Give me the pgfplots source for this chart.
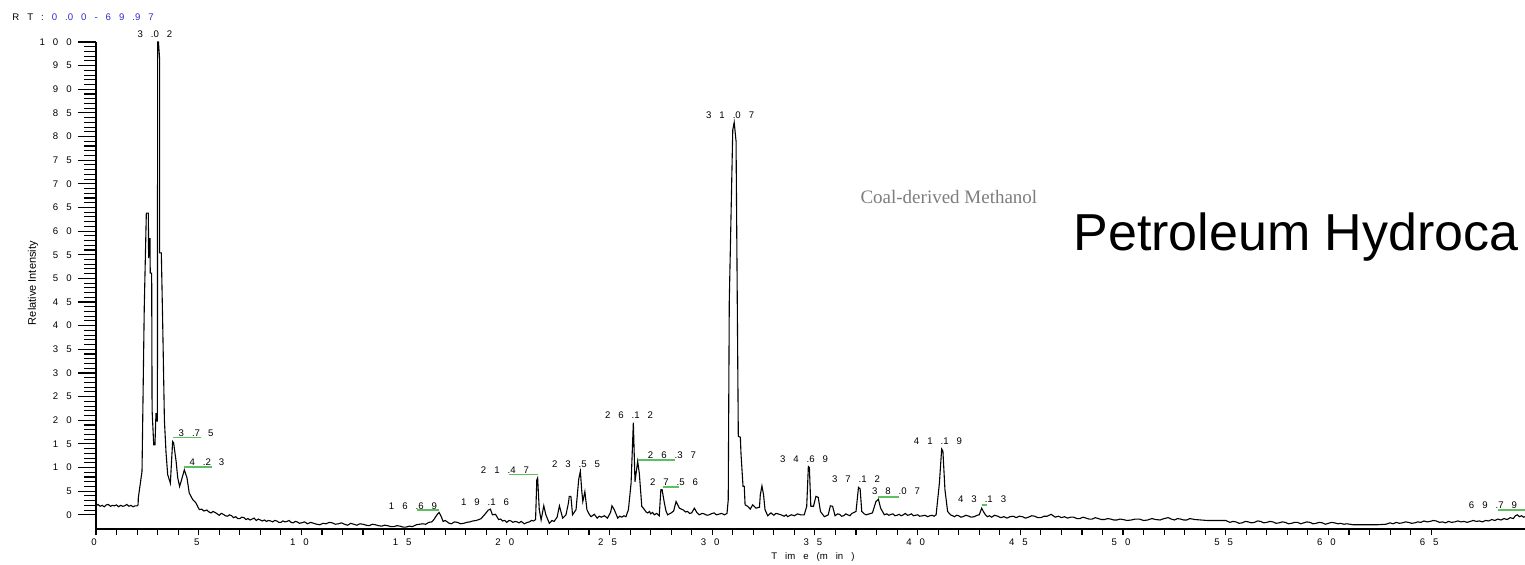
\documentclass[border=0pt]{standalone}
\usepackage{pgfplots}
\pgfplotsset{compat=1.18}
\usepackage{fontspec}
\newfontfamily\tf{Liberation Sans}
\newfontfamily\sansf{Liberation Sans}
\newfontfamily\seriff{Liberation Serif}
\newcommand\lab{\tf\fontsize{4.8pt}{5pt}\selectfont\fontdimen2\font=4pt\fontdimen3\font=0pt\fontdimen4\font=0pt\relax}
\definecolor{pkgreen}{RGB}{95,190,95}
\definecolor{rtblue}{RGB}{45,45,200}
\definecolor{coalgray}{RGB}{125,125,125}
\begin{document}
\begin{tikzpicture}
\begin{axis}[
  scale only axis, width=714.5pt, height=243.5pt,
  xmin=0, xmax=69.57, ymin=-3, ymax=100,
  axis x line=bottom, axis y line=left,
  axis line style={-, black, line width=0.6pt},
  xtick=\empty,
  ytick={0,5,...,100},
  yticklabels={0,5,1 0,1 5,2 0,2 5,3 0,3 5,4 0,4 5,5 0,5 5,6 0,6 5,7 0,7 5,8 0,8 5,9 0,9 5,1 0 0},
  minor y tick num=4,
  tick align=outside,
  major tick length=9pt, minor tick length=6pt,
  every tick/.style={black, line width=0.55pt},
  yticklabel style={font=\lab, anchor=east, inner sep=0pt, xshift=-3pt},
  clip=false,
]
\addplot[black, line width=0.55pt, no markers] coordinates {
(0.00,1.9) (0.1,2.2) (0.2,1.8) (0.3,2.0) (0.4,1.7) (0.5,2.1) (0.6,2.2) (0.7,1.8) (0.8,2.0) (0.9,1.9) (1.0,2.1) (1.1,1.7) (1.2,2.0) (1.3,1.8) (1.4,1.9) (1.5,2.2) (1.6,1.8) (1.7,2.0) (1.8,1.7) (1.9,1.9) (2.0,1.9) (2.05,2.1)
(2.06,3.6) (2.24,9.2) (2.35,44) (2.45,63.8) (2.55,63.8) (2.56,54.3) (2.63,58.5) (2.64,51.1) (2.71,51.1) (2.73,22.2) (2.81,14.8) (2.87,14.8) (2.92,21.5) (2.99,19.7) (3.0,100) (3.04,100) (3.1,96.2) (3.1,55.4)
(3.18,55.4) (3.25,39.8) (3.33,20) (3.41,13.1) (3.49,8.5) (3.62,6.7) (3.73,15.5) (3.78,15.2) (3.9,11.3) (3.98,7.8) (4.07,6.0) (4.14,7.0) (4.3,9.5) (4.43,7.8) (4.54,4.6) (4.71,3.2) (4.85,2.6) (5.03,1.1)
(5.15,1.2) (5.25,0.8) (5.4,1.0) (5.5,0.6) (5.6,0.4) (5.7,0.7) (5.8,0.5) (5.9,0.2) (6.0,-0.1) (6.1,0.3) (6.2,0.1) (6.3,-0.2) (6.4,-0.3) (6.5,0.0) (6.6,-0.2) (6.7,-0.6) (6.8,-0.4) (6.9,-0.8) (7.0,-0.8) (7.1,-0.5) (7.2,-0.6) (7.3,-1.0) (7.4,-0.8) (7.5,-1.1) (7.6,-0.9) (7.7,-0.7) (7.8,-1.2) (7.9,-0.9) (8.0,-1.1) (8.1,-1.3) (8.2,-1.1) (8.3,-1.4) (8.4,-1.2) (8.5,-1.3) (8.6,-1.5) (8.7,-1.2) (8.8,-1.3) (8.9,-1.6) (9.0,-1.6) (9.1,-1.3) (9.2,-1.5) (9.3,-1.4) (9.4,-1.2) (9.5,-1.6) (9.6,-1.7) (9.7,-1.4) (9.8,-1.5) (9.9,-1.8) (10.0,-1.7) (10.15,-1.5) (10.3,-1.9) (10.45,-1.6) (10.6,-1.8) (10.75,-2.0) (10.9,-2.1) (11.05,-1.8) (11.2,-1.9) (11.35,-1.6) (11.5,-1.7) (11.65,-2.0) (11.8,-1.9) (11.95,-1.7) (12.1,-2.0) (12.25,-2.2) (12.4,-1.8) (12.55,-2.0) (12.7,-2.2) (12.85,-1.9) (13.0,-2.0) (13.15,-2.2) (13.3,-2.3) (13.45,-2.0) (13.6,-2.1) (13.75,-2.3) (13.9,-2.4) (14.05,-2.2) (14.2,-2.3) (14.35,-2.5) (14.5,-2.5) (14.65,-2.3) (14.8,-2.4) (14.95,-2.6) (15.1,-2.6) (15.25,-2.4) (15.4,-2.5) (15.5,-2.3) (15.6,-2.1) (15.75,-2.0) (15.9,-1.9) (16.05,-2.0) (16.2,-1.6) (16.35,-1.5) (16.45,-1.0) (16.6,0.0) (16.7,0.5) (16.8,-0.3) (16.9,-1.4) (17.0,-1.2) (17.1,-1.5) (17.2,-1.8) (17.3,-1.9) (17.45,-1.5) (17.6,-1.6) (17.75,-1.9) (17.9,-1.8) (18.05,-1.6) (18.2,-1.5) (18.35,-1.3) (18.5,-1.2) (18.65,-1.0) (18.75,-0.8) (18.95,0.2) (19.1,1.0) (19.2,1.2) (19.3,0.0) (19.45,0.1) (19.6,-1.0) (19.7,-0.9) (19.8,-1.3) (19.9,-1.2) (20.0,-1.6) (20.1,-1.2) (20.2,-1.3) (20.3,-1.6) (20.4,-1.4) (20.5,-1.5) (20.6,-1.7) (20.7,-1.4) (20.85,-1.9) (21.0,-1.6) (21.1,-1.5) (21.2,-1.2) (21.3,-1.3) (21.4,-1.0)
(21.46,7.4) (21.5,7.8) (21.58,1.1) (21.67,-1.1) (21.8,1.9) (21.9,0.0) (22.07,-1.8) (22.2,-1.2) (22.3,-1.4) (22.45,-0.5) (22.56,1.9) (22.72,-0.7) (22.88,0.0) (23.0,2.5) (23.04,3.9) (23.12,3.9) (23.2,0.0) (23.37,1.1) (23.5,7.5) (23.58,9.2) (23.65,5) (23.7,2.8) (23.8,4.9) (23.9,1.1) (24.0,0.2) (24.1,-0.4) (24.26,0.1) (24.4,-0.7) (24.5,-0.3) (24.6,-0.5) (24.75,-0.2) (24.9,-0.7) (25.05,0.5) (25.12,1.9) (25.23,1.1) (25.4,-0.7) (25.5,-0.3) (25.6,-0.5) (25.7,-0.2) (25.8,-0.4) (25.92,1.1) (26.05,6.7) (26.16,19.5) (26.24,7.0) (26.37,11.3) (26.45,8.8) (26.57,1.8) (26.7,1.1) (26.78,0.6) (26.86,0.4) (26.95,0.7) (27.0,0.2) (27.1,0.5) (27.18,0.0) (27.3,0.3) (27.42,-0.2) (27.5,5.3) (27.56,5.3) (27.67,2.5) (27.75,0.8) (27.83,0.0) (27.92,0.2) (28.0,0.4) (28.12,0.8) (28.24,2.8) (28.4,1.4) (28.5,1.2) (28.6,1.0) (28.7,0.6) (28.8,0.7) (28.9,0.3) (29.0,0.4) (29.13,1.4) (29.25,0.5) (29.37,0.0) (29.5,0.3) (29.6,0.2) (29.75,-0.1) (29.85,0.0) (30.0,0.3) (30.1,0.4) (30.2,0.0) (30.3,0.1) (30.45,0.3) (30.6,0.0) (30.72,0.3)
(30.78,3.2) (30.83,45) (31.0,81.4) (31.07,83) (31.16,79) (31.27,16.6) (31.37,16.4) (31.4,13) (31.5,6.0) (31.56,6.0) (31.6,2.1) (31.73,1.8) (31.85,1.2) (31.97,2.1) (32.13,1.4) (32.3,1.6) (32.34,4.2) (32.42,6.1) (32.5,4.2) (32.57,1.1) (32.7,-0.2) (32.86,0.4) (33.0,-0.1) (33.1,0.3) (33.2,0.2) (33.35,0.0) (33.5,-0.3) (33.6,0.0) (33.67,-0.4) (33.85,0.0) (34.0,-0.2) (34.15,0.2) (34.3,0.0) (34.48,0.0)
(34.6,1.8) (34.68,10.2) (34.73,10.0) (34.8,1.8) (34.93,1.8) (35.05,3.9) (35.16,3.7) (35.27,0.7) (35.46,-0.4) (35.65,0.0) (35.75,1.9) (35.86,1.8) (35.98,-0.2) (36.1,0.2) (36.2,0.1) (36.3,-0.3) (36.4,-0.2) (36.5,0.2) (36.6,0.0) (36.7,-0.2) (36.8,0.3) (37.0,0.7) (37.12,5.8) (37.2,5.5) (37.28,0.7) (37.4,0.2) (37.49,0.0) (37.65,0.2) (37.8,0.4) (37.97,2.8) (38.09,3.3) (38.2,1.4) (38.38,0.0) (38.5,0.2) (38.6,-0.1) (38.7,0.1) (38.8,0.2) (38.9,-0.2) (39.0,-0.1) (39.1,0.1) (39.2,-0.2) (39.3,0.0) (39.4,0.3) (39.5,-0.1) (39.6,0.0) (39.7,0.2) (39.8,-0.2) (39.9,-0.1) (40.0,0.0) (40.1,-0.3) (40.25,-0.2) (40.35,-0.1) (40.49,-0.4) (40.6,-0.2) (40.7,-0.1) (40.8,-0.3) (40.9,0.0)
(41.06,6.7) (41.17,13.9) (41.23,13.5) (41.33,5.3) (41.46,0.7) (41.6,0.0) (41.7,-0.2) (41.8,-0.4) (41.9,-0.1) (42.0,-0.2) (42.1,-0.5) (42.2,-0.4) (42.35,-0.1) (42.5,-0.3) (42.6,-0.5) (42.75,-0.4) (42.9,-0.1) (43.0,0.0) (43.12,1.4) (43.2,0.7) (43.3,0.0) (43.4,-0.4) (43.5,-0.2) (43.6,-0.5) (43.75,-0.1) (43.9,-0.3) (44.05,-0.6) (44.2,-0.4) (44.35,-0.7) (44.5,-0.4) (44.65,-0.3) (44.8,-0.6) (44.95,-0.3) (45.1,-0.4) (45.25,-0.7) (45.4,-0.5) (45.55,-0.2) (45.7,-0.3) (45.85,-0.6) (46.0,-0.6) (46.15,-0.3) (46.3,-0.3) (46.5,0.1) (46.6,-0.2) (46.7,-0.5) (46.85,-0.3) (47.0,-0.6) (47.15,-0.4) (47.3,-0.7) (47.45,-0.5) (47.6,-0.5) (47.75,-0.8) (47.9,-0.8) (48.05,-0.5) (48.2,-0.7) (48.35,-0.9) (48.5,-0.9) (48.65,-0.6) (48.8,-0.8) (48.95,-1.0) (49.1,-1.0) (49.25,-0.8) (49.4,-0.9) (49.55,-1.1) (49.7,-1.1) (49.85,-0.9) (50.0,-1.0) (50.2,-1.2) (50.4,-1.1) (50.6,-0.9) (50.8,-0.9) (51.0,-1.2) (51.2,-1.1) (51.4,-0.8) (51.6,-1.0) (51.8,-1.1) (52.0,-0.8) (52.2,-0.6) (52.35,-0.9) (52.5,-1.1) (52.65,-0.8) (52.8,-0.9) (52.95,-1.1) (53.1,-1.1) (53.25,-0.8) (53.5,-1.0) (53.8,-1.1) (54.1,-1.2) (54.5,-1.2) (55.0,-1.2)
(55.2,-1.6) (55.35,-1.4) (55.5,-1.5) (55.65,-1.8) (55.8,-1.7) (55.95,-1.4) (56.1,-1.5) (56.25,-1.7) (56.4,-1.6) (56.55,-1.3) (56.7,-1.4) (56.85,-1.7) (57.0,-1.6) (57.15,-1.4) (57.3,-1.5) (57.45,-1.8) (57.6,-1.7) (57.75,-1.5) (57.9,-1.6) (58.05,-1.9) (58.2,-1.8) (58.35,-1.6) (58.5,-1.6) (58.65,-1.9) (58.8,-1.7) (58.95,-1.5) (59.1,-1.6) (59.25,-1.9) (59.4,-1.8) (59.55,-1.6) (59.7,-1.7) (59.85,-2.0) (60.0,-1.8) (60.15,-1.6) (60.3,-1.7) (60.45,-1.9) (60.6,-1.8) (60.75,-2.0) (60.9,-1.9) (61.2,-2.1) (61.6,-2.1) (62.0,-2.1) (62.4,-2.1) (62.8,-2.0) (63.0,-1.7) (63.15,-1.9) (63.3,-1.6) (63.45,-1.8) (63.6,-1.7) (63.75,-1.5) (63.9,-1.6) (64.05,-1.8) (64.2,-1.7) (64.35,-1.5) (64.5,-1.6) (64.65,-1.3) (64.8,-1.5) (64.95,-1.4) (65.1,-1.2) (65.25,-1.3) (65.4,-1.6) (65.55,-1.5) (65.7,-1.7) (65.85,-1.4) (66.0,-1.6) (66.15,-1.5) (66.3,-1.3) (66.45,-1.5) (66.6,-1.4) (66.75,-1.6) (66.9,-1.4) (67.05,-1.2) (67.2,-1.4) (67.35,-1.3) (67.5,-1.5) (67.65,-1.2) (67.8,-1.3) (67.95,-1.0) (68.1,-1.2) (68.25,-0.9) (68.4,-1.1) (68.55,-0.8) (68.7,-1.0) (68.85,-0.6) (69.0,-0.8) (69.1,-0.2) (69.2,0.0) (69.3,-0.4) (69.4,-0.2) (69.5,-0.5) (69.57,-0.4)
};
% green peak marker lines
\addplot[pkgreen, line width=0.7pt, forget plot] coordinates {(3.75,16.3) (5.1,16.3)};
\addplot[pkgreen, line width=0.7pt, forget plot] coordinates {(4.28,10.1) (5.65,10.1)};
\addplot[pkgreen, line width=0.7pt, forget plot] coordinates {(15.63,1.0) (16.7,1.0)};
\addplot[pkgreen, line width=0.7pt, forget plot] coordinates {(20.1,8.5) (21.5,8.5)};
\addplot[pkgreen, line width=0.7pt, forget plot] coordinates {(26.4,11.6) (28.2,11.6)};
\addplot[pkgreen, line width=0.7pt, forget plot] coordinates {(27.6,5.9) (28.4,5.9)};
\addplot[pkgreen, line width=0.7pt, forget plot] coordinates {(38.07,3.8) (39.1,3.8)};
\addplot[pkgreen, line width=0.7pt, forget plot] coordinates {(43.13,2.1) (43.4,2.1)};
\addplot[pkgreen, line width=0.7pt, forget plot] coordinates {(68.25,1.0) (69.57,1.0)};
% peak labels
\node[font=\lab] at (axis cs:2.87,101.7) {3 .0 2};
\node[font=\lab] at (axis cs:4.87,17.3) {3 .7 5};
\node[font=\lab] at (axis cs:5.40,11.2) {4 .2 3};
\node[font=\lab] at (axis cs:15.43,1.9) {1 6 .6 9};
\node[font=\lab] at (axis cs:18.94,2.7) {1 9 .1 6};
\node[font=\lab] at (axis cs:19.91,9.5) {2 1 .4 7};
\node[font=\lab] at (axis cs:23.37,10.8) {2 3 .5 5};
\node[font=\lab] at (axis cs:25.95,21.1) {2 6 .1 2};
\node[font=\lab] at (axis cs:28.04,12.7) {2 6 .3 7};
\node[font=\lab] at (axis cs:28.14,7.0) {2 7 .5 6};
\node[font=\lab] at (axis cs:30.87,84.6) {3 1 .0 7};
\node[font=\lab] at (axis cs:34.47,11.8) {3 4 .6 9};
\node[font=\lab] at (axis cs:37.0,7.6) {3 7 .1 2};
\node[font=\lab] at (axis cs:38.95,4.9) {3 8 .0 7};
\node[font=\lab] at (axis cs:40.99,15.6) {4 1 .1 9};
\node[font=\lab] at (axis cs:43.14,3.2) {4 3 .1 3};
\node[font=\lab] at (axis cs:68.01,2.1) {6 9 .7 9};
% header / labels
\node[font=\lab, anchor=west, inner sep=0pt] at (axis cs:-4.09,105.3) {R T : \textcolor{rtblue}{0 .0 0 - 6 9 .9 7}};
\node[font=\sansf\fontsize{5.5pt}{6pt}\selectfont, rotate=90] at (axis cs:-3.07,49) {Relative Intensity};
\node[font=\lab] at (axis cs:34.9,-8.92) {T im e (m in )};
\node[font=\seriff\fontsize{9.5pt}{11pt}\selectfont, text=coalgray, anchor=base west, inner sep=0pt] at (axis cs:37.2,65.8) {Coal-derived Methanol};
\node[font=\sansf\fontsize{26pt}{30pt}\selectfont, anchor=base west, inner sep=0pt] at (axis cs:47.57,56.0) {Petroleum Hydroca};
\coordinate (bbsw) at (axis cs:-4.674,-10.61);
\coordinate (bbne) at (axis cs:69.57,108.88);
\end{axis}
\begin{axis}[
  scale only axis, width=714.5pt, height=243.5pt,
  xmin=0, xmax=69.57, ymin=-3, ymax=100,
  axis x line=bottom, axis y line=none,
  axis line style={-, black, line width=0.6pt},
  xtick={0,5,...,65},
  xticklabels={0,5,1 0,1 5,2 0,2 5,3 0,3 5,4 0,4 5,5 0,5 5,6 0,6 5},
  minor x tick num=4,
  ytick=\empty,
  tick align=outside,
  major tick length=3.2pt, minor tick length=3pt,
  every tick/.style={black, line width=0.55pt},
  xticklabel style={font=\lab, anchor=north, inner sep=0pt, yshift=-1.75pt, xshift=-1pt},
]
\end{axis}
\pgfresetboundingbox
\useasboundingbox (bbsw) rectangle (bbne);
\end{tikzpicture}
\end{document}
